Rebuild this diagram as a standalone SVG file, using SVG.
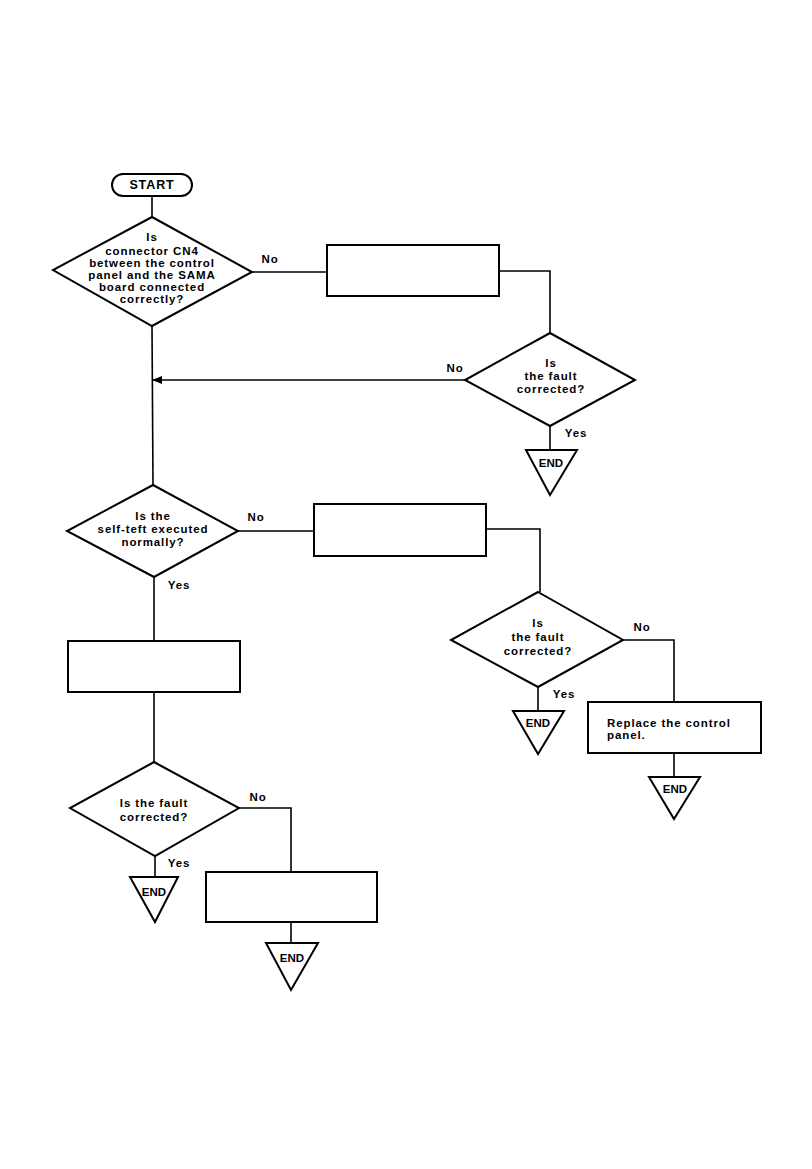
<svg xmlns="http://www.w3.org/2000/svg" width="812" height="1169" viewBox="0 0 812 1169">
<style>
.s{fill:none;stroke:#000;stroke-width:2;stroke-linejoin:miter}
.t{font-family:"Liberation Sans",Arial,sans-serif;font-weight:bold;font-size:11.5px;letter-spacing:0.9px;fill:#000;text-anchor:middle}
.l{text-anchor:start}
.c{fill:none;stroke:#000;stroke-width:1.6}
</style>
<defs>
<marker id="ah" markerWidth="10" markerHeight="8" refX="9" refY="4" orient="auto" markerUnits="userSpaceOnUse">
<path d="M0,0 L10,4 L0,8 Z" fill="#000"/>
</marker>
</defs>
<rect width="812" height="1169" fill="#fff"/>
<g id="connectors">
<line class="c" x1="152" y1="196" x2="152" y2="217"/>
<line class="c" x1="252" y1="272" x2="327" y2="272"/>
<polyline class="c" points="499,271 550,271 550,333"/>
<line class="c" x1="465" y1="380" x2="153" y2="380" marker-end="url(#ah)"/>
<line class="c" x1="550" y1="426" x2="550" y2="450"/>
<line class="c" x1="152" y1="326" x2="153" y2="485"/>
<line class="c" x1="238" y1="531" x2="314" y2="531"/>
<polyline class="c" points="486,529 540,529 540,592"/>
<line class="c" x1="154" y1="577" x2="154" y2="641"/>
<line class="c" x1="154" y1="692" x2="154" y2="762"/>
<polyline class="c" points="623,640 674,640 674,702"/>
<line class="c" x1="538" y1="687" x2="538" y2="711"/>
<line class="c" x1="674" y1="753" x2="674" y2="777"/>
<polyline class="c" points="239,808 291,808 291,872"/>
<line class="c" x1="155" y1="856" x2="155" y2="877"/>
<line class="c" x1="291" y1="922" x2="291" y2="943"/>
<text class="t" x="270" y="263">No</text>
<text class="t" x="455" y="372">No</text>
<text class="t" x="576" y="437">Yes</text>
<text class="t" x="256" y="521">No</text>
<text class="t" x="179" y="589">Yes</text>
<text class="t" x="642" y="631">No</text>
<text class="t" x="564" y="698">Yes</text>
<text class="t" x="258" y="801">No</text>
<text class="t" x="179" y="867">Yes</text>
</g>
<g id="start">
<rect class="s" x="112" y="174" width="80" height="22" rx="11"/>
<text class="t" x="152" y="189" style="font-size:12.5px">START</text>
</g>
<g id="d1">
<polygon class="s" points="152,217 252,272 152,326 53,270"/>
<text class="t" x="152" y="241">Is</text>
<text class="t" x="152" y="255">connector CN4</text>
<text class="t" x="152" y="267">between the control</text>
<text class="t" x="152" y="279">panel and the SAMA</text>
<text class="t" x="152" y="291">board connected</text>
<text class="t" x="152" y="303">correctly?</text>
</g>
<g id="box1"><rect class="s" x="327" y="245" width="172" height="51"/></g>
<g id="d2">
<polygon class="s" points="550,333 635,380 550,426 465,380"/>
<text class="t" x="551" y="367">Is</text>
<text class="t" x="551" y="380">the fault</text>
<text class="t" x="551" y="393">corrected?</text>
</g>
<g id="end1">
<polygon class="s" points="526,450 577,450 550,495"/>
<text class="t" x="551" y="467" style="letter-spacing:0">END</text>
</g>
<g id="d3">
<polygon class="s" points="153,485 238,531 154,577 67,531"/>
<text class="t" x="153" y="520">Is the</text>
<text class="t" x="153" y="533">self-teft executed</text>
<text class="t" x="153" y="546">normally?</text>
</g>
<g id="box2"><rect class="s" x="314" y="504" width="172" height="52"/></g>
<g id="box3"><rect class="s" x="68" y="641" width="172" height="51"/></g>
<g id="d4">
<polygon class="s" points="538,592 623,640 538,687 451,640"/>
<text class="t" x="538" y="627">Is</text>
<text class="t" x="538" y="641">the fault</text>
<text class="t" x="538" y="655">corrected?</text>
</g>
<g id="end2">
<polygon class="s" points="513,711 564,711 538,754"/>
<text class="t" x="538" y="727" style="letter-spacing:0">END</text>
</g>
<g id="box4">
<rect class="s" x="588" y="702" width="173" height="51"/>
<text class="t l" x="607" y="727">Replace the control</text>
<text class="t l" x="607" y="739">panel.</text>
</g>
<g id="end3">
<polygon class="s" points="649,777 700,777 674,819"/>
<text class="t" x="675" y="793" style="letter-spacing:0">END</text>
</g>
<g id="d5">
<polygon class="s" points="154,762 239,808 155,856 70,808"/>
<text class="t" x="154" y="807">Is the fault</text>
<text class="t" x="154" y="821">corrected?</text>
</g>
<g id="end4">
<polygon class="s" points="130,877 178,877 155,922"/>
<text class="t" x="154" y="896" style="letter-spacing:0">END</text>
</g>
<g id="box5"><rect class="s" x="206" y="872" width="171" height="50"/></g>
<g id="end5">
<polygon class="s" points="266,943 318,943 291,990"/>
<text class="t" x="292" y="962" style="letter-spacing:0">END</text>
</g>
</svg>
